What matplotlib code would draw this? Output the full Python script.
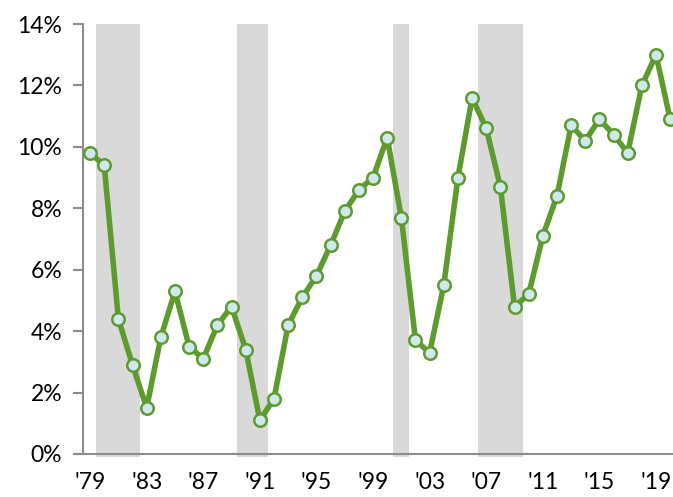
import numpy as np
import matplotlib.pyplot as plt

plt.rcParams['font.family'] = ['Lato', 'DejaVu Sans']

years = list(range(1979, 2021))
values = [9.8, 9.4, 4.4, 2.9, 1.5, 3.8, 5.3, 3.5, 3.1, 4.2, 4.8, 3.4, 1.1, 1.8,
          4.2, 5.1, 5.8, 6.8, 7.9, 8.6, 9.0, 10.3, 7.7, 3.7, 3.3, 5.5, 9.0, 11.6,
          10.6, 8.7, 4.8, 5.2, 7.1, 8.4, 10.7, 10.2, 10.9, 10.4, 9.8, 12.0, 13.0, 10.9]

rec_start = [1979.42, 1989.4, 2000.42, 2006.42]
rec_end = [1982.53, 1991.58, 2001.54, 2009.6]

tick_years = list(range(1979, 2020, 4))
tick_labels = ["'" + str(y)[2:] for y in tick_years]

fig = plt.figure(figsize=(6.73, 4.97), dpi=100)
ax = fig.add_axes([83 / 673, 1 - 454 / 497, 590 / 673, 430 / 497])

for s, e in zip(rec_start, rec_end):
    ax.axvspan(s, e, ymin=-0.008, ymax=1, color='#d9d9d9', lw=0, zorder=0, clip_on=False)

ax.plot(years, values, color='#5e9b2f', lw=4, marker='o', ms=9,
        mfc='#cfe8ee', mec='#5e9b2f', mew=1.8, zorder=3, clip_on=False)

ax.set_xlim(1978.5, 2020.2)
ax.set_ylim(0, 14)
ax.set_yticks(range(0, 15, 2))
ax.set_yticklabels([f'{v}%' for v in range(0, 15, 2)])
ax.set_xticks(tick_years)
ax.set_xticklabels(tick_labels)

for sp in ['top', 'right']:
    ax.spines[sp].set_visible(False)
for sp in ['left', 'bottom']:
    ax.spines[sp].set_color('#8c8c8c')
    ax.spines[sp].set_linewidth(1.5)
ax.spines['bottom'].set_bounds(1978.0, 2020.2)
ax.spines['bottom'].set_position(('data', 0))

ax.tick_params(axis='y', length=7, width=1.5, color='#8c8c8c', labelsize=16.5, pad=8)
ax.tick_params(axis='x', length=0, labelsize=16.5, pad=13)

fig.savefig('out.png', dpi=100)
